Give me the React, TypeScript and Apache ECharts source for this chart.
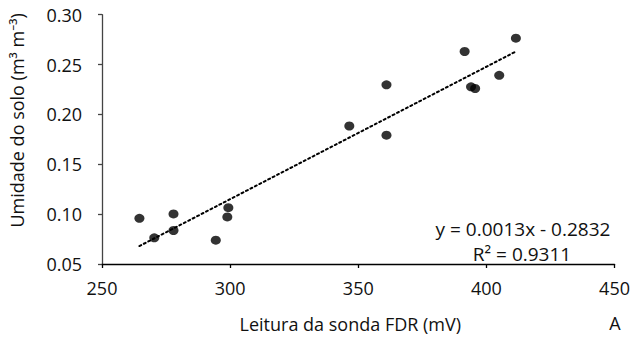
import React, { useEffect, useRef } from "react";
import * as echarts from "echarts";

const xValues = [264.6, 270.4, 277.9, 277.9, 294.4, 299.3, 298.9, 346.5, 361.0, 361.0, 391.5, 394.0, 395.6, 405.0, 411.5];
const yValues = [0.0958, 0.0763, 0.1002, 0.0836, 0.0739, 0.1065, 0.0972, 0.1884, 0.2297, 0.1792, 0.2631, 0.2277, 0.226, 0.2392, 0.2765];
const trendX = [264.6, 411.5];
const trendY = [0.068, 0.2631];
const xTicks = [250, 300, 350, 400, 450];
const yTicks = [0.05, 0.1, 0.15, 0.2, 0.25, 0.3];
const equationText = "y = 0.0013x - 0.2832";
const r2Text = "R² = 0.9311";
const panelLabel = "A";
const xTitle = "Leitura da sonda FDR (mV)";
const yTitle = "Umidade do solo (m³ m⁻³)";

const FONT = "'Open Sans', 'Noto Sans', sans-serif";
const FS = 18;
const TXT = "#111";

export default function App() {
  const ref = useRef<HTMLDivElement>(null);
  useEffect(() => {
    if (!ref.current) return;
    const chart = echarts.init(ref.current, null, { renderer: "svg" });
    chart.setOption({
      animation: false,
      backgroundColor: "#ffffff",
      grid: { left: 101.7, right: 15.3, top: 14.7, bottom: 72.3, containLabel: false },
      xAxis: {
        type: "value",
        min: xTicks[0],
        max: xTicks[xTicks.length - 1],
        interval: 50,
        name: xTitle,
        nameLocation: "middle",
        nameGap: 51,
        nameTextStyle: { fontFamily: FONT, fontSize: FS, color: TXT, padding: [0, 16, 0, 0] },
        axisLine: { show: true, lineStyle: { color: "#000", width: 1.3 } },
        axisTick: { show: true, inside: false, length: 4, lineStyle: { color: "#000", width: 1.3 } },
        axisLabel: { fontFamily: FONT, fontSize: FS, color: TXT, margin: 15, formatter: (v: number) => String(v) },
        splitLine: { show: false },
      },
      yAxis: {
        type: "value",
        min: yTicks[0],
        max: yTicks[yTicks.length - 1],
        interval: 0.05,
        name: yTitle,
        nameLocation: "middle",
        nameGap: 76,
        nameTextStyle: { fontFamily: FONT, fontSize: FS, color: TXT, padding: [0, 0, 0, 38] },
        axisLine: { show: true, lineStyle: { color: "#444", width: 1.3 } },
        axisTick: { show: true, inside: false, length: 4, lineStyle: { color: "#444", width: 1.3 } },
        axisLabel: { fontFamily: FONT, fontSize: FS, color: TXT, margin: 20, formatter: (v: number) => v.toFixed(2) },
        splitLine: { show: false },
      },
      series: [
        {
          type: "scatter",
          data: xValues.map((x, i) => [x, yValues[i]]),
          symbol: "circle",
          symbolSize: [10, 9],
          itemStyle: { color: "#000" },
          z: 3,
        },
        {
          type: "line",
          data: trendX.map((x, i) => [x, trendY[i]]),
          showSymbol: false,
          symbol: "none",
          lineStyle: { color: "#000", width: 2, type: [2, 3], cap: "round" },
          z: 2,
        },
      ],
      graphic: [
        {
          type: "text",
          x: 523,
          y: 229,
          style: { text: equationText, font: `${FS + 1}px ${FONT}`, fill: TXT, align: "center", verticalAlign: "middle" },
        },
        {
          type: "text",
          x: 522,
          y: 254,
          style: { text: r2Text, font: `${FS + 1}px ${FONT}`, fill: TXT, align: "center", verticalAlign: "middle" },
        },
        {
          type: "text",
          x: 615,
          y: 323,
          style: { text: panelLabel, font: `${FS}px ${FONT}`, fill: TXT, align: "center", verticalAlign: "middle" },
        },
      ],
    });
    return () => chart.dispose();
  }, []);
  return <div ref={ref} style={{ width: 633, height: 338, position: "absolute", left: 0, top: 0 }} />;
}
